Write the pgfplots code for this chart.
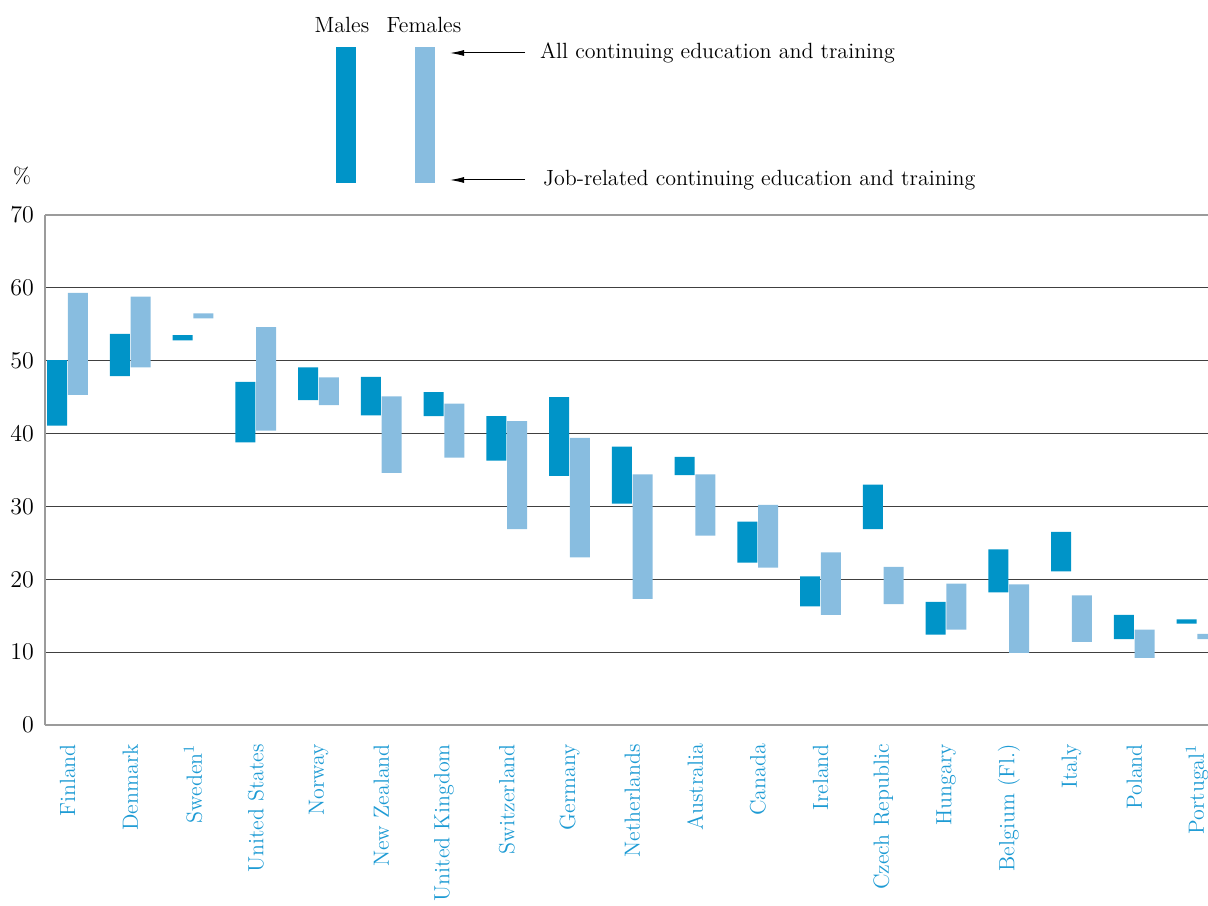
\documentclass[border=0pt]{standalone}
\usepackage{pgfplots}
\pgfplotsset{compat=1.18}
\usepackage{pgfplotstable}
\usetikzlibrary{arrows.meta}
\definecolor{mblue}{RGB}{0,148,200}
\definecolor{fblue}{RGB}{136,189,224}
\definecolor{lblue}{RGB}{30,155,212}
\definecolor{axgray}{RGB}{155,155,155}

\pgfplotstableread{
x mlo mhi flo fhi
0 41.1 50.1 45.3 59.3
1 47.9 53.7 49.1 58.8
2 52.8 53.5 55.8 56.5
3 38.8 47.1 40.4 54.6
4 44.6 49.1 43.9 47.7
5 42.5 47.8 34.6 45.1
6 42.4 45.7 36.7 44.1
7 36.3 42.4 26.9 41.7
8 34.2 45.0 23.0 39.4
9 30.4 38.2 17.3 34.4
10 34.3 36.8 26.0 34.4
11 22.3 27.9 21.6 30.2
12 16.3 20.4 15.1 23.7
13 26.9 33.0 16.6 21.7
14 12.4 16.9 13.1 19.4
15 18.2 24.1 9.9 19.3
16 21.1 26.5 11.4 17.8
17 11.8 15.1 9.2 13.1
18 13.9 14.5 11.8 12.5
}\data

\pgfplotsset{
  base/.style={
    width=581.5pt, height=255pt, scale only axis,
    at={(0,0)}, anchor=south west,
    xmin=-0.359, xmax=18.175, ymin=0, ymax=70,
    ybar stacked, bar width=10pt, clip=false,
  },
}

\begin{document}
\begin{tikzpicture}[font=\fontsize{11}{13}\selectfont]
\begin{axis}[base,
  axis line style={draw=none},
  ytick={10,20,...,60},
  extra y ticks={0,70},
  extra y tick style={ymajorgrids=true, major grid style={axgray, line width=1pt}},
  ymajorgrids,
  major grid style={black!75, line width=0.6pt},
  major tick length=0pt,
  xtick={0,...,18},
  xticklabels={Finland, Denmark, Sweden\textsuperscript{1}, United States, Norway, New Zealand, United Kingdom, Switzerland, Germany, Netherlands, Australia, Canada, Ireland, Czech Republic, Hungary, Belgium (Fl.), Italy, Poland, Portugal\textsuperscript{1}},
  xticklabel style={rotate=90, anchor=east, text=lblue, font=\fontsize{11}{13}\selectfont},
  xticklabel shift=6pt,
  yticklabel style={font=\fontsize{11.5}{13}\selectfont},
  yticklabel shift=2pt,
]
\addplot[draw=none, fill=none] table[x expr=\thisrow{x}-0.165, y=mlo] {\data};
\addplot[fill=mblue, draw=none] table[x expr=\thisrow{x}-0.165, y expr=\thisrow{mhi}-\thisrow{mlo}] {\data};
\draw[axgray, line width=1pt] (rel axis cs:0,0) -- (rel axis cs:0,1);
\end{axis}
\begin{axis}[base, hide axis]
\addplot[draw=none, fill=none] table[x expr=\thisrow{x}+0.165, y=flo] {\data};
\addplot[fill=fblue, draw=none] table[x expr=\thisrow{x}+0.165, y expr=\thisrow{fhi}-\thisrow{flo}] {\data};
\end{axis}
% legend
\node at (148.5pt,350pt) {Males};
\node at (189.5pt,350pt) {Females};
\fill[mblue] (145.5pt,271pt) rectangle (155.5pt,339pt);
\fill[fblue] (185pt,271pt) rectangle (195pt,339pt);
\draw[line width=0.5pt, -{Latex[length=7pt,width=3pt]}] (240pt,336pt) -- (202.5pt,336pt);
\node[anchor=west] at (244pt,336pt) {All continuing education and training};
\draw[line width=0.5pt, -{Latex[length=7pt,width=3pt]}] (240pt,272.5pt) -- (202.5pt,272.5pt);
\node[anchor=west] at (245.5pt,272.5pt) {Job-related continuing education and training};
\node at (-11.5pt,274.5pt) {\%};
\pgfresetboundingbox
\path (-22.5pt,-90pt) rectangle (581.5pt,362.5pt);
\end{tikzpicture}
\end{document}
